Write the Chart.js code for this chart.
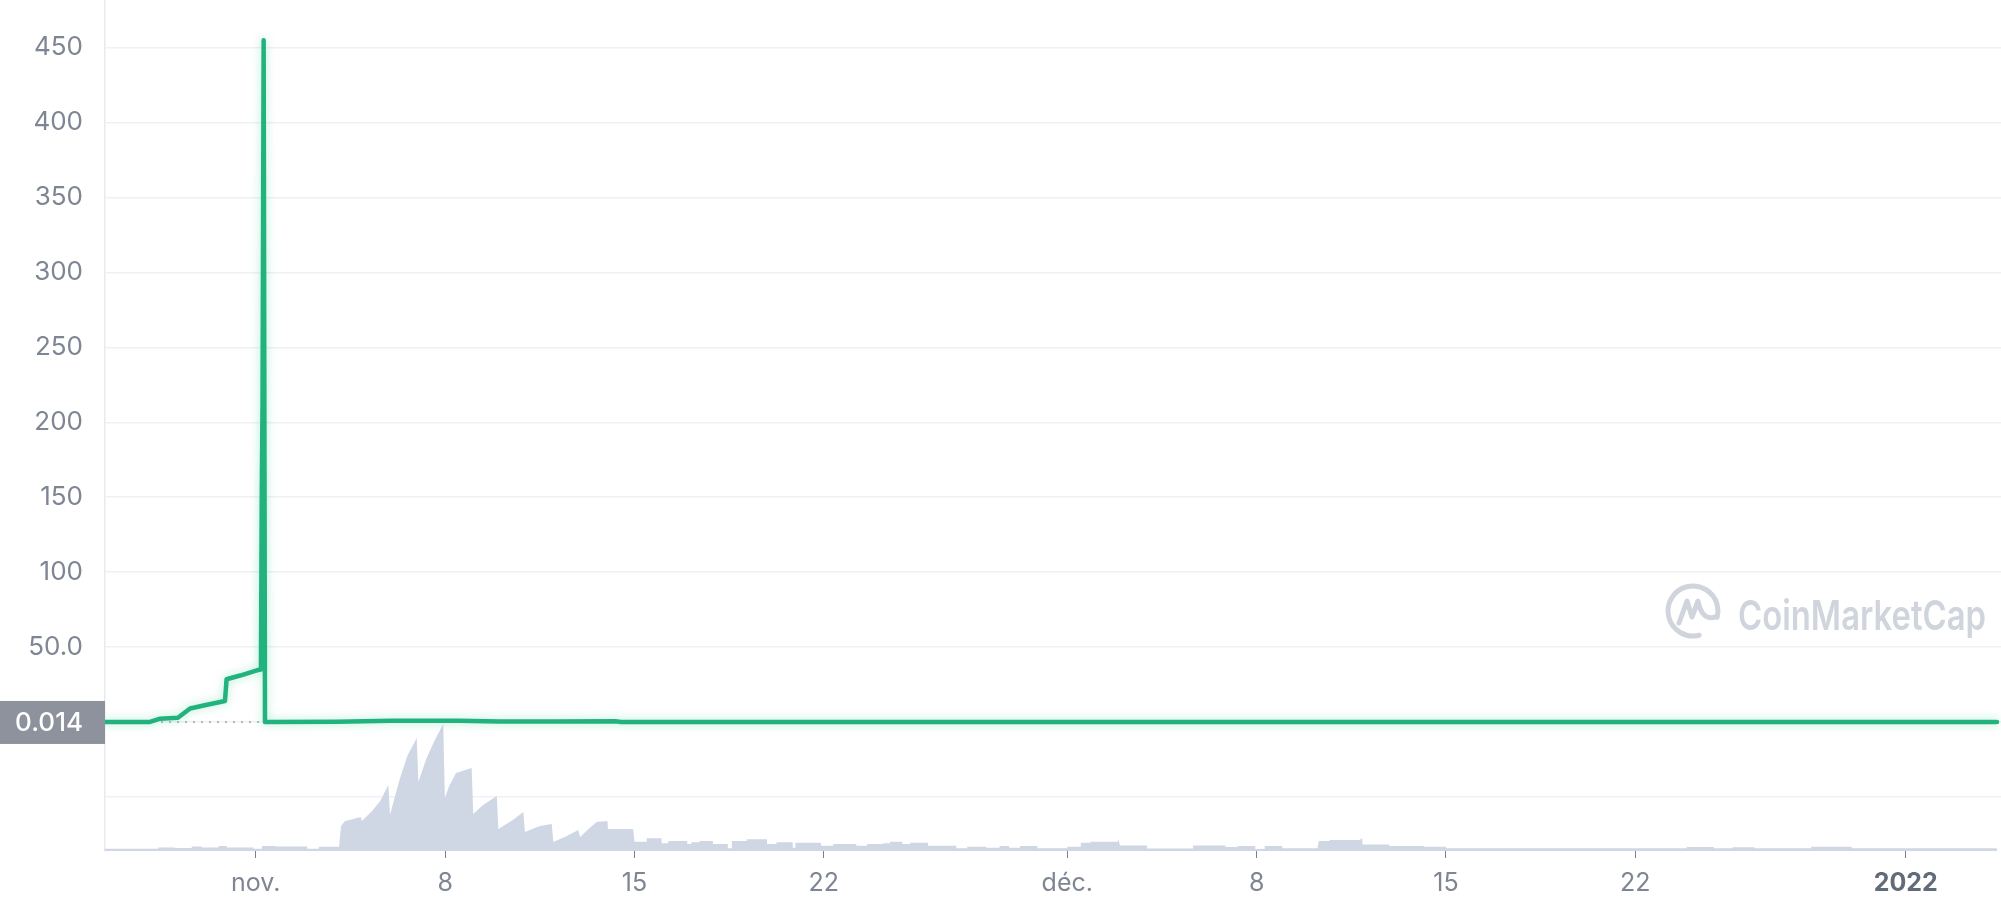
<!DOCTYPE html>
<html><head><meta charset="utf-8">
<script src="https://cdn.jsdelivr.net/npm/chart.js@4/dist/chart.umd.min.js"></script>
<style>html,body{margin:0;padding:0;background:#fff;}#wrap{position:relative;width:2001px;height:911px;}</style>
</head><body><div id="wrap"><canvas id="c"></canvas></div>
<script>
// x values are days counted from 1 Nov 2021 00:00
const priceDays   = [-5.575, -3.91, -3.54, -2.88, -2.43, -1.80, -1.14, -1.08, -0.58, 0.04, 0.19, 0.22, 0.25, 0.29, 0.34, 0.40, 3.0, 5.0, 7.5, 9.0, 11.0, 13.3, 13.5, 64.37];
const priceValues = [0.014, 0.014, 2.2, 2.8, 9, 11.5, 14, 28.5, 31, 34.5, 35, 150, 215, 455, 0.02, 0.014, 0.2, 0.9, 0.8, 0.4, 0.3, 0.5, 0.014, 0.014];

const volumeDays = [-5.575,-3.6,-3.6,-2.98,-2.98,-2.37,-2.37,-2.0,-2.0,-1.38,-1.38,-1.07,-1.07,-0.08,-0.08,0.23,0.23,0.72,0.72,1.9,1.9,2.33,2.33,3.08,
  3.15,3.3,3.6,3.88,3.92,4.3,4.6,4.9,4.96,5.3,5.6,5.95,6.01,6.3,6.6,6.93,6.99,7.15,7.4,7.98,8.04,8.4,8.91,8.97,9.5,9.89,9.95,10.5,10.94,11.0,11.5,11.92,11.99,12.3,12.6,13.0,13.02,13.95,14.0,14.45,14.45,15.0,15.0,15.25,15.25,15.95,15.95,16.1,16.1,16.4,16.4,16.9,16.9,17.45,17.45,17.6,17.6,18.15,18.15,18.9,18.9,19.25,19.25,19.85,19.85,19.95,19.95,20.9,20.9,21.35,21.35,22.2,22.2,22.6,22.6,23.2,23.2,23.45,23.45,23.9,23.9,24.2,24.2,24.85,24.85,25.9,25.9,26.3,26.3,27.0,27.0,27.5,27.5,27.85,27.85,28.25,28.25,28.9,28.9,30.0,30.0,30.5,30.5,30.85,30.85,31.85,31.9,31.95,32.95,32.95,34.65,34.65,35.85,35.85,36.3,36.3,36.95,36.95,37.3,37.3,37.95,37.95,39.25,39.3,39.7,39.7,40.8,40.9,40.92,41.9,41.9,43.2,43.2,44.0,44.0,52.9,52.9,53.9,53.9,54.6,54.6,55.4,55.4,57.5,57.5,59.0,59.0,64.37];
const volumeValues = [2.2,2.2,3.6,3.6,3.0,3.0,4.5,4.5,3.6,3.6,5,5,3.6,3.6,2.2,2.2,5,5,4.6,4.6,2.2,2.2,4.2,4.2,
  25,30,32,34,30,40,50,66,36,70,95,113,69,92,110,127,53,65,78,83,37,46,55,22,31,39,19,25,27,9,15,21,14,22,29,30,22,22,9.3,9.3,12.7,12.7,7.7,7.7,10,10,7,7,8.7,8.7,10,10,7,7,2.7,2.7,10,10,11.7,11.7,7,7,8.7,8.7,3.3,3.3,8.3,8.3,5.3,5.3,7,7,5.3,5.3,7,7,7.7,7.7,9.3,9.3,7,7,8.3,8.3,5.3,5.3,2.7,2.7,4.3,4.3,3.3,3.3,5,5,3.3,3.3,5,5,2.7,2.7,4.3,4.3,8.3,8.3,9.3,9.3,11,5.5,5.5,2.5,2.5,5.5,5.5,4,4,5,5,2,2,5,5,2.7,2.7,10,10,11,11,12.7,6.5,6.5,5,5,4.3,4.3,2.8,2.8,4.0,4.0,2.8,2.8,3.8,3.8,2.8,2.8,4.3,4.3,2.8,2.8];

const tickDays   = [0, 7, 14, 21, 30, 37, 44, 51, 61];
const tickLabels = ['nov.', '8', '15', '22', 'déc.', '8', '15', '22', '2022'];
const priceTicks = [-50, 0, 50, 100, 150, 200, 250, 300, 350, 400, 450];
const currentPrice = 0.014;
const currentPriceLabel = '0.014';
const watermarkText = 'CoinMarketCap';

const overlay = {
  id: 'overlay',
  beforeDatasetsDraw(chart) {
    const {ctx, chartArea: a, scales: {y}} = chart;
    const py = y.getPixelForValue(currentPrice);
    ctx.save();
    ctx.strokeStyle = '#9ea4ae'; ctx.lineWidth = 1.5; ctx.setLineDash([2, 6]);
    ctx.beginPath(); ctx.moveTo(a.left, py); ctx.lineTo(a.right, py); ctx.stroke();
    ctx.setLineDash([]);
    // watermark logo
    const cx = 1693, cy = 611, r = 25;
    ctx.strokeStyle = '#d0d5dd'; ctx.lineWidth = 5; ctx.lineCap = 'round'; ctx.lineJoin = 'round';
    ctx.beginPath(); ctx.arc(cx, cy, r, 0.42 * Math.PI, 2.08 * Math.PI); ctx.stroke();
    ctx.beginPath();
    ctx.moveTo(cx - 14, cy + 12);
    ctx.lineTo(cx - 6, cy - 10);
    ctx.lineTo(cx - 1, cy + 6);
    ctx.lineTo(cx + 5, cy - 10);
    ctx.quadraticCurveTo(cx + 9, cy + 10, cx + 22, cy + 6);
    ctx.stroke();
    ctx.fillStyle = '#d0d5dd';
    ctx.font = '600 41px Inter';
    ctx.textBaseline = 'alphabetic'; ctx.textAlign = 'left';
    const w = ctx.measureText(watermarkText).width;
    ctx.translate(1738, 630); ctx.scale(248 / w, 1);
    ctx.fillText(watermarkText, 0, 0);
    ctx.restore();
  },
  beforeDatasetDraw(chart, args) {
    if (args.index === 1) {
      chart.ctx.save();
      chart.ctx.shadowColor = 'rgba(22,199,132,0.35)';
      chart.ctx.shadowBlur = 10;
    }
  },
  afterDatasetDraw(chart, args) { if (args.index === 1) chart.ctx.restore(); },
  afterDraw(chart) {
    const {ctx, chartArea: a, scales: {y}} = chart;
    const py = y.getPixelForValue(currentPrice);
    ctx.save();
    ctx.fillStyle = '#8d929d';
    ctx.fillRect(0, py - 21, a.left, 43);
    ctx.fillStyle = '#ffffff';
    ctx.font = '500 26px Inter';
    ctx.textAlign = 'right'; ctx.textBaseline = 'middle';
    ctx.fillText(currentPriceLabel, a.left - 22, py + 1);
    ctx.restore();
  }
};

new Chart(document.getElementById('c'), {
  type: 'line',
  data: {
    datasets: [
      { label: 'Volume', data: volumeDays.map((d, i) => ({x: d, y: volumeValues[i]})), yAxisID: 'yv',
        borderWidth: 0, borderColor: 'rgba(0,0,0,0)', backgroundColor: '#cfd6e4', fill: 'origin', pointRadius: 0, tension: 0, order: 2 },
      { label: 'Price', data: priceDays.map((d, i) => ({x: d, y: priceValues[i]})), yAxisID: 'y',
        borderColor: '#22b27e', borderWidth: 4.5, pointRadius: 0, fill: false, tension: 0, order: 1,
        borderJoinStyle: 'round', borderCapStyle: 'round' }
    ]
  },
  options: {
    responsive: true, maintainAspectRatio: false, animation: false,
    layout: { padding: 0 },
    plugins: { legend: { display: false }, tooltip: { enabled: false } },
    scales: {
      x: {
        type: 'linear', min: -5.575, max: 64.52,
        afterBuildTicks(s) { s.ticks = tickDays.map(v => ({value: v})); },
        afterFit(s) { s.height = 60; s.paddingLeft = 0; s.paddingRight = 0; },
        grid: { drawOnChartArea: false, drawTicks: true, tickLength: 7, tickColor: '#7a808c', lineWidth: 1 },
        border: { display: false },
        ticks: {
          autoSkip: false, maxRotation: 0, padding: 10,
          callback: (v) => { const i = tickDays.indexOf(v); return i >= 0 ? tickLabels[i] : ''; },
          font: (c) => ({ family: 'Inter', size: 25, weight: (c.tick && c.tick.label === '2022') ? '700' : '400' }),
          color: (c) => (c.tick && c.tick.label === '2022') ? '#626b7a' : '#7f8693'
        }
      },
      y: {
        position: 'left', min: -86.1, max: 481.8,
        afterBuildTicks(s) { s.ticks = priceTicks.map(v => ({value: v})); },
        afterFit(s) { s.width = 105; s.paddingTop = 0; s.paddingBottom = 0; },
        grid: { color: '#eff1f4', lineWidth: 1.5, drawTicks: false },
        border: { display: true, color: '#e8eaee', width: 1.5 },
        ticks: {
          padding: 22,
          callback: (v) => (v <= 0 ? '' : (v === 50 ? '50.0' : String(v))),
          font: { family: 'Inter', size: 26 }, color: '#7f8693'
        }
      },
      yv: { display: false, min: 0, max: 851 }
    }
  },
  plugins: [overlay]
});
</script></body></html>
